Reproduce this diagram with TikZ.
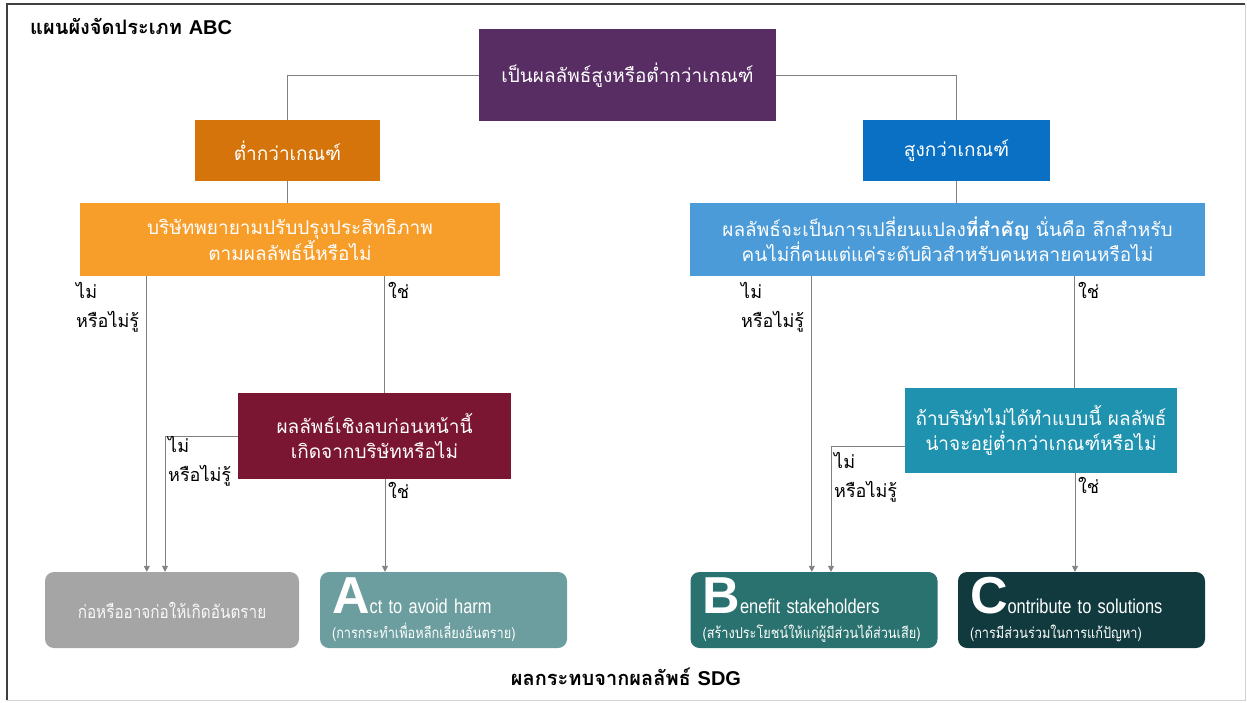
\documentclass[tikz,border=0pt]{standalone}
\usepackage{fontspec}
\setmainfont[Script=Thai]{Loma}
\newfontfamily\arial{Liberation Sans}
\newfontfamily\narrow[FakeStretch=0.82]{Liberation Sans}
\newfontfamily\thainarrow[Script=Thai,FakeStretch=0.85]{Loma}
\usetikzlibrary{arrows.meta}
\usetikzlibrary{calc}

\definecolor{topviolet}{RGB}{88,45,100}
\definecolor{loworange}{RGB}{212,116,10}
\definecolor{highblue}{RGB}{10,112,196}
\definecolor{lightorange}{RGB}{246,157,42}
\definecolor{lightblue}{RGB}{74,155,216}
\definecolor{maroon}{RGB}{122,21,50}
\definecolor{teal}{RGB}{31,146,175}
\definecolor{harmgray}{RGB}{165,165,165}
\definecolor{colA}{RGB}{108,158,160}
\definecolor{colB}{RGB}{42,114,111}
\definecolor{colC}{RGB}{16,58,62}
\definecolor{linkgray}{RGB}{128,128,128}

\newcommand{\bigletter}[1]{{\arial\bfseries\fontsize{52}{52}\selectfont #1}}

\begin{document}
\begin{tikzpicture}[x=1pt,y=-1pt,
	box/.style={fill=#1, text=white, align=center, inner sep=0pt, font=\fontsize{19}{25}\selectfont},
	result/.style={box=#1, rounded corners=9pt, minimum width=247pt, minimum height=76pt},
	link/.style={draw=linkgray, line width=0.9pt},
	arr/.style={link, -{Triangle[width=6pt,length=6pt]}},
	answer/.style={anchor=north west, align=left, inner sep=0pt, font=\fontsize{18}{29}\selectfont}]

		\useasboundingbox (0,0) rectangle (1247,702);
		
		% frame
		\draw [line width=1.6pt, black!75] (7,700) -- (7,4) -- (1245,4);
		\draw [gray!35] (1245,4) -- (1245,700) -- (7,700);
		
		\node (title) [anchor=west, inner sep=0pt, font=\bfseries\fontsize{20}{22}\selectfont] at (30,27) {แผนผังจัดประเภท {\arial ABC}};
		\node (impact) [inner sep=0pt, font=\bfseries\fontsize{20}{22}\selectfont] at (626,677) {ผลกระทบจากผลลัพธ์ {\arial SDG}};
		
		% questions
		\node (top) [box=topviolet, minimum width=297pt, minimum height=92pt] at (627.5,75) {เป็นผลลัพธ์สูงหรือต่ำกว่าเกณฑ์};
		\node (low) [box=loworange, minimum width=185pt, minimum height=61pt] at (287.5,150.5) {ต่ำกว่าเกณฑ์};
		\node (high) [box=highblue, minimum width=187pt, minimum height=61pt] at (956.5,150.5) {สูงกว่าเกณฑ์};
		\node (improve) [box=lightorange, minimum width=420pt, minimum height=73pt] at (290,239.5) {บริษัทพยายามปรับปรุงประสิทธิภาพ\\ตามผลลัพธ์นี้หรือไม่};
		\node (signif) [box=lightblue, minimum width=515pt, minimum height=73pt] at (947.5,239.5) {ผลลัพธ์จะเป็นการเปลี่ยนแปลง\textbf{ที่สำคัญ} นั่นคือ ลึกสำหรับ\\คนไม่กี่คนแต่แค่ระดับผิวสำหรับคนหลายคนหรือไม่};
		\node (negprev) [box=maroon, minimum width=273pt, minimum height=86pt] at (374.5,436) {ผลลัพธ์เชิงลบก่อนหน้านี้\\เกิดจากบริษัทหรือไม่};
		\node (ifnot) [box=teal, minimum width=272pt, minimum height=85pt] at (1041,430.5) {ถ้าบริษัทไม่ได้ทำแบบนี้ ผลลัพธ์\\น่าจะอยู่ต่ำกว่าเกณฑ์หรือไม่};
		
		% outcomes
		\node (harm) [result=harmgray, minimum width=254pt, font=\thainarrow\fontsize{18}{22}\selectfont, text=white!95!gray] at (172,610) {ก่อหรืออาจก่อให้เกิดอันตราย};
		\node (boxA) [result=colA, align=left, text width=223pt] at (443.5,610) {\bigletter{A}{\narrow\fontsize{20}{20}\selectfont ct to avoid harm}\\[0pt]{\thainarrow\fontsize{15}{16}\selectfont (การกระทำเพื่อหลีกเลี่ยงอันตราย)}};
		\node (boxB) [result=colB, align=left, text width=223pt] at (814,610) {\bigletter{B}{\narrow\fontsize{20}{20}\selectfont enefit stakeholders}\\[0pt]{\thainarrow\fontsize{15}{16}\selectfont (สร้างประโยชน์ให้แก่ผู้มีส่วนได้ส่วนเสีย)}};
		\node (boxC) [result=colC, align=left, text width=223pt] at (1081.5,610) {\bigletter{C}{\narrow\fontsize{20}{20}\selectfont ontribute to solutions}\\[0pt]{\thainarrow\fontsize{15}{16}\selectfont (การมีส่วนร่วมในการแก้ปัญหา)}};
		
		% connectors
		\draw [link] (top.west) -| (low.north);
		\draw [link] (top.east) -| (high.north);
		\draw [link] (low.south) -- (low.south |- improve.north);
		\draw [link] (high.south) -- (high.south |- signif.north);
		
		\draw [arr] ([xshift=67pt]improve.south west) coordinate (n1) -- (n1 |- harm.north);
		\draw [link] ([xshift=305pt]improve.south west) coordinate (y1) -- (y1 |- negprev.north);
		\draw [arr] (negprev.west) -| ([xshift=-7pt]harm.north);
		\draw [arr] ([xshift=10.5pt]negprev.south) coordinate (y2) -- (y2 |- boxA.north);
		
		\draw [arr] ([xshift=122pt]signif.south west) coordinate (n3) -- (n3 |- boxB.north);
		\draw [link] ([xshift=385pt]signif.south west) coordinate (y3) -- (y3 |- ifnot.north);
		\draw [arr] ([yshift=-16pt]ifnot.west) -| ([xshift=17pt]boxB.north);
		\draw [arr] ([xshift=34pt]ifnot.south) coordinate (y4) -- (y4 |- boxC.north);
		
		% answers
		\node (no1) [answer] at (76,282) {ไม่\\หรือไม่รู้};
		\node (yes1) [answer] at (388,282) {ใช่};
		\node (no2) [answer] at (168,436) {ไม่\\หรือไม่รู้};
		\node (yes2) [answer] at (388,482) {ใช่};
		\node (no3) [answer] at (741,282) {ไม่\\หรือไม่รู้};
		\node (yes3) [answer] at (1078,282) {ใช่};
		\node (no4) [answer] at (834,452) {ไม่\\หรือไม่รู้};
		\node (yes4) [answer] at (1078,477) {ใช่};
		
\end{tikzpicture}
\end{document}
